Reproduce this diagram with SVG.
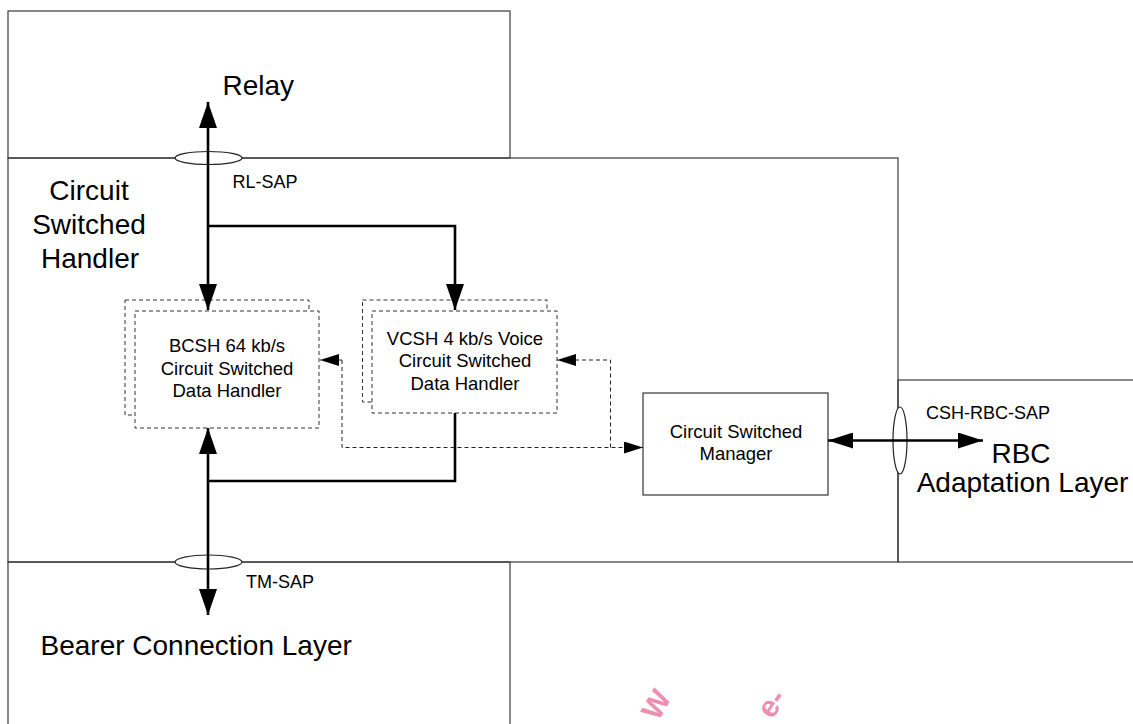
<svg xmlns="http://www.w3.org/2000/svg" width="1133" height="724" viewBox="0 0 1133 724">
  <style>
    text { font-family: "Liberation Sans", Arial, sans-serif; fill: #000; }
    .layer { fill: none; stroke: #3a3a3a; stroke-width: 1.2; }
    .big { font-size: 28px; }
    .lbl { font-size: 18.5px; }
    .sap { font-size: 18px; }
    .dbox { fill: #fff; stroke: #333; stroke-width: 1; stroke-dasharray: 4 3; }
    .box { fill: #fff; stroke: #333; stroke-width: 1.2; }
    .sapring { fill: #fff; stroke: #222; stroke-width: 1.2; }
    .thick { fill: none; stroke: #000; stroke-width: 2.6; }
    .dash { fill: none; stroke: #222; stroke-width: 1; stroke-dasharray: 4 3; }
    .mark { font-size: 30px; font-weight: bold; fill: #ef8fb0; }
  </style>
  <defs>
    <marker id="bigHead" markerUnits="userSpaceOnUse" markerWidth="26" markerHeight="18" refX="26" refY="9" orient="auto-start-reverse">
      <path d="M0,0 L26,9 L0,18 Z" fill="#000"/>
    </marker>
    <marker id="midHead" markerUnits="userSpaceOnUse" markerWidth="25" markerHeight="16" refX="25" refY="8" orient="auto-start-reverse">
      <path d="M0,0 L25,8 L0,16 Z" fill="#000"/>
    </marker>
    <marker id="smallHead" markerUnits="userSpaceOnUse" markerWidth="19" markerHeight="12" refX="19" refY="6" orient="auto">
      <path d="M0,0 L19,6 L0,12 Z" fill="#000"/>
    </marker>
  </defs>

  <!-- protocol layers -->
  <g id="relay-layer">
    <rect class="layer" x="8" y="11" width="502" height="147"/>
    <text class="big" x="222.5" y="95">Relay</text>
  </g>
  <g id="csh-layer">
    <rect class="layer" x="8" y="158" width="890" height="404"/>
    <text class="big" x="89" y="200" text-anchor="middle">Circuit</text>
    <text class="big" x="89" y="234" text-anchor="middle">Switched</text>
    <text class="big" x="90" y="268" text-anchor="middle">Handler</text>
  </g>
  <g id="bearer-layer">
    <rect class="layer" x="8" y="562" width="502" height="180"/>
    <text class="big" x="40.5" y="655">Bearer Connection Layer</text>
  </g>
  <g id="rbc-layer">
    <rect class="layer" x="898" y="380" width="250" height="182"/>
    <text class="big" x="1021" y="463" text-anchor="middle">RBC</text>
    <text class="big" x="1022.5" y="492" text-anchor="middle">Adaptation Layer</text>
  </g>

  <!-- handlers -->
  <g id="bcsh">
    <rect class="dbox" x="125" y="300" width="184" height="115"/>
    <rect class="dbox" x="135" y="311" width="184" height="117"/>
    <text class="lbl" x="227" y="352" text-anchor="middle">BCSH 64 kb/s</text>
    <text class="lbl" x="227" y="375" text-anchor="middle">Circuit Switched</text>
    <text class="lbl" x="227" y="397" text-anchor="middle">Data Handler</text>
  </g>
  <g id="vcsh">
    <rect class="dbox" x="362.5" y="300" width="184.5" height="102"/>
    <rect class="dbox" x="372" y="311" width="185" height="102"/>
    <text class="lbl" x="465" y="345" text-anchor="middle">VCSH 4 kb/s Voice</text>
    <text class="lbl" x="465" y="367" text-anchor="middle">Circuit Switched</text>
    <text class="lbl" x="465" y="390" text-anchor="middle">Data Handler</text>
  </g>
  <g id="csm">
    <rect class="box" x="643" y="393" width="185" height="102"/>
    <text class="lbl" x="736" y="438" text-anchor="middle">Circuit Switched</text>
    <text class="lbl" x="736" y="460" text-anchor="middle">Manager</text>
  </g>

  <!-- service access points -->
  <g id="rl-sap">
    <ellipse class="sapring" cx="208.5" cy="158" rx="33.5" ry="6.5"/>
    <text class="sap" x="232.5" y="188">RL-SAP</text>
  </g>
  <g id="tm-sap">
    <ellipse class="sapring" cx="208.5" cy="562" rx="33.5" ry="7"/>
    <text class="sap" x="246" y="588">TM-SAP</text>
  </g>
  <g id="csh-rbc-sap">
    <ellipse class="sapring" cx="900" cy="440.5" rx="7" ry="33.5"/>
    <text class="sap" x="926" y="419">CSH-RBC-SAP</text>
  </g>

  <!-- connectors -->
  <g id="connectors">
    <line class="thick" x1="208" y1="102" x2="208" y2="310" marker-start="url(#bigHead)" marker-end="url(#bigHead)"/>
    <path class="thick" d="M208,226 H455 V310" marker-end="url(#bigHead)"/>
    <path class="thick" d="M455,413 V481 H208"/>
    <line class="thick" x1="208" y1="428" x2="208" y2="615" marker-start="url(#bigHead)" marker-end="url(#bigHead)"/>
    <line class="thick" x1="828" y1="440.5" x2="983" y2="440.5" marker-start="url(#midHead)" marker-end="url(#midHead)"/>
    <path class="dash" d="M342,360 V447.5 H643" marker-end="url(#smallHead)"/>
    <path class="dash" d="M342,360 H320" marker-end="url(#smallHead)"/>
    <path class="dash" d="M610.5,447.5 V360 H557" marker-end="url(#smallHead)"/>
  </g>

  <!-- watermark fragments along the lower edge -->
  <g id="watermark">
    <text class="mark" transform="translate(658,722) rotate(-60)">W</text>
    <text class="mark" font-size="18" transform="translate(772,720) rotate(-55)">e-</text>
  </g>
</svg>
